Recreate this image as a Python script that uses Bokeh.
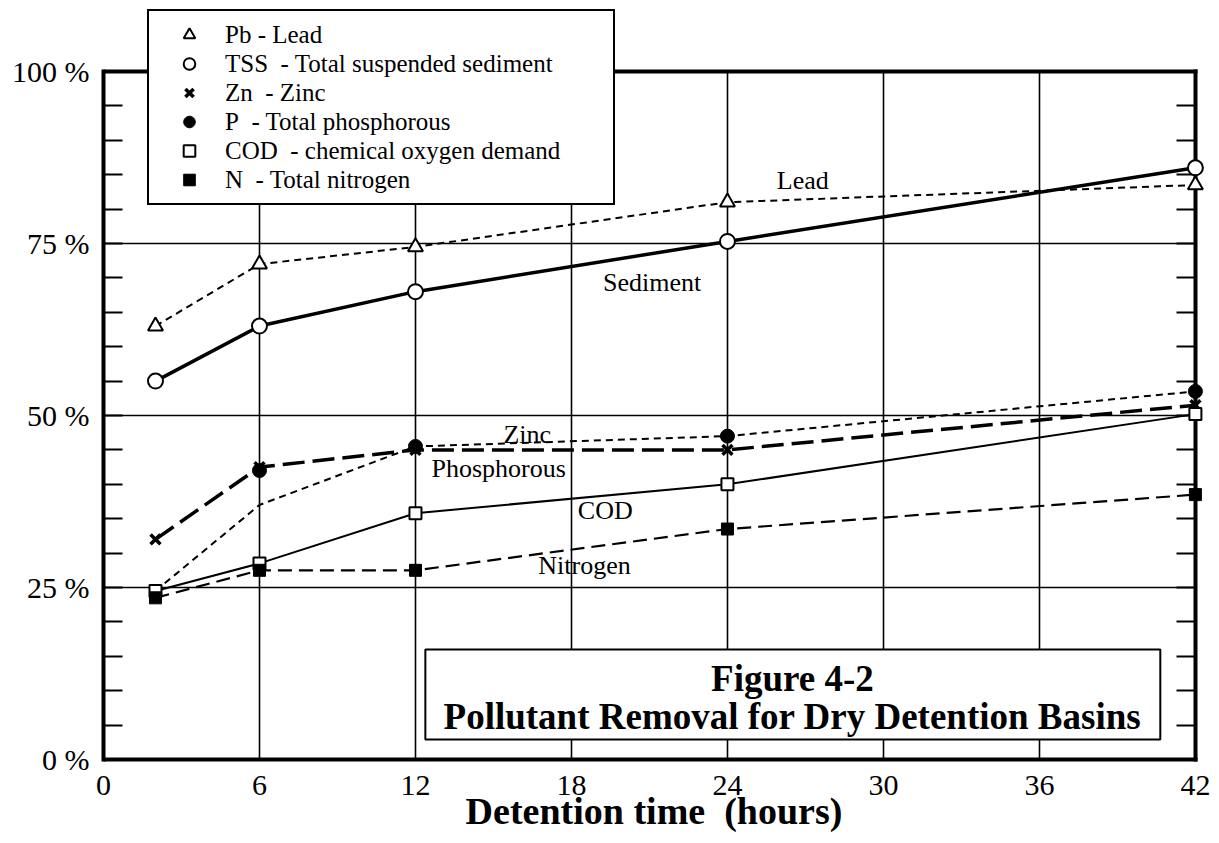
from bokeh.plotting import figure
from bokeh.models import (Legend, LegendItem, SingleIntervalTicker, FixedTicker,
                          Range1d, BoxAnnotation, Label, Grid, AllLabels)
from bokeh.embed import file_html
from bokeh.resources import INLINE

# ---------------- data ----------------
hours = [2, 6, 12, 24, 42]
lead = [63, 72, 74.5, 81, 83.5]
tss = [55, 63, 68, 75.3, 86]
zinc = [32, 42.5, 45, 45, 51.5]
phos_line = [24.5, 37, 45.5, 47, 53.5]
phos_hours = [6, 12, 24, 42]
phos_points = [42, 45.5, 47, 53.5]
cod = [24.5, 28.5, 35.8, 40, 50.2]
nitrogen = [23.5, 27.5, 27.5, 33.5, 38.5]

x_ticks = [0, 6, 12, 18, 24, 30, 36, 42]
y_ticks = [0, 25, 50, 75, 100]
y_tick_labels = ["0 %", "25 %", "50 %", "75 %", "100 %"]

legend_labels = [
    "Pb - Lead",
    "TSS\u00a0 - Total suspended sediment",
    "Zn\u00a0 - Zinc",
    "P\u00a0 - Total phosphorous",
    "COD\u00a0 - chemical oxygen demand",
    "N\u00a0 - Total nitrogen",
]
series_names = ["Lead", "Sediment", "Zinc", "Phosphorous", "COD", "Nitrogen"]

# ---------------- layout / style ----------------
SERIF = "Liberation Serif"
X_MAX, Y_MAX = x_ticks[-1], y_ticks[-1]
PX_PER_X = 26.0      # pixels per hour
PX_PER_Y = 6.88      # pixels per percent
FRAME_TOP_PX = 71    # where 100 % sits from the top of the canvas
BOTTOM_PAD_PX = 3    # frame extends a little below 0 % so the bottom line is not clipped
name_pos = [(26.9, 84.2), (21.1, 69.3), (16.3, 47.3), (15.2, 42.3), (19.3, 36.2), (18.5, 28.2)]

x_end = X_MAX + 0.35
y_start = -BOTTOM_PAD_PX / PX_PER_Y
y_end = Y_MAX + FRAME_TOP_PX / PX_PER_Y

p = figure(width=1219, height=843, output_backend="svg", toolbar_location=None,
           title=None, x_range=Range1d(0, x_end), y_range=Range1d(y_start, y_end),
           min_border_left=103, min_border_right=15, min_border_top=0,
           min_border_bottom=81)
p.background_fill_color = "white"
p.border_fill_color = "white"
p.outline_line_color = None

# x axis (labels only; the bottom frame line is drawn as a grid line at 0 %)
xa = p.xaxis[0]
xa.ticker = x_ticks
xa.major_label_policy = AllLabels()
xa.axis_line_color = None
xa.major_tick_in = 0
xa.major_tick_out = 0
xa.minor_tick_in = 0
xa.minor_tick_out = 0
xa.major_label_standoff = 13
xa.major_label_text_font = SERIF
xa.major_label_text_font_size = "30px"
xa.major_label_text_color = "black"
xa.axis_label = "Detention time\u00a0 (hours)"
xa.axis_label_text_font = SERIF
xa.axis_label_text_font_style = "bold"
xa.axis_label_text_font_size = "38px"
xa.axis_label_text_color = "black"
xa.axis_label_standoff = -8

# y axis (left frame line + inward minor ticks)
ya = p.yaxis[0]
ya.ticker = SingleIntervalTicker(interval=25, num_minor_ticks=5)
ya.bounds = (0, Y_MAX)
ya.major_label_overrides = dict(zip(y_ticks, y_tick_labels))
ya.axis_line_color = "black"
ya.axis_line_width = 4
ya.axis_line_cap = "square"
ya.major_tick_in = 0
ya.major_tick_out = 0
ya.minor_tick_in = 19
ya.minor_tick_out = 0
ya.minor_tick_line_width = 2
ya.minor_tick_line_color = "black"
ya.major_label_standoff = 14
ya.major_label_text_font = SERIF
ya.major_label_text_font_size = "30px"
ya.major_label_text_color = "black"

# inner grid lines, limited to the 0..42 / 0..100 box
p.xgrid.ticker = x_ticks[1:-1]
p.ygrid.ticker = y_ticks[1:-1]
p.xgrid.cross_bounds = (0, Y_MAX)
p.ygrid.cross_bounds = (0, X_MAX)
for g in (p.xgrid[0], p.ygrid[0]):
    g.grid_line_color = "black"
    g.grid_line_width = 1.6
    g.grid_line_alpha = 1

# right, top and bottom frame lines
p.add_layout(Grid(dimension=0, ticker=FixedTicker(ticks=[X_MAX]), cross_bounds=(0, Y_MAX),
                  grid_line_color="black", grid_line_width=4, grid_line_cap="square"))
p.add_layout(Grid(dimension=1, ticker=FixedTicker(ticks=[y_ticks[0], Y_MAX]),
                  cross_bounds=(0, X_MAX), grid_line_color="black", grid_line_width=4,
                  grid_line_cap="square"))
# inward minor ticks on the right frame line
p.add_layout(Grid(dimension=1, ticker=SingleIntervalTicker(interval=25, num_minor_ticks=5),
                  cross_bounds=(X_MAX - 19 / PX_PER_X, X_MAX), grid_line_color=None,
                  minor_grid_line_color="black", minor_grid_line_width=2))

# ---------------- lines ----------------
p.line(hours, lead, line_color="black", line_width=2, line_dash="7 5")
p.line(hours, tss, line_color="black", line_width=3.5)
p.line(hours, zinc, line_color="black", line_width=3.5, line_dash="22 8")
p.line(hours, phos_line, line_color="black", line_width=2, line_dash="7 5")
p.line(hours, cod, line_color="black", line_width=2)
p.line(hours, nitrogen, line_color="black", line_width=2.2, line_dash="14 7")

# ---------------- markers ----------------
r_pb = p.scatter(hours, lead, marker="triangle", size=15, fill_color="white",
                 line_color="black", line_width=2)
r_tss = p.scatter(hours, tss, marker="circle", size=15, fill_color="white",
                  line_color="black", line_width=2)
r_zn = p.scatter(hours, zinc, marker="x", size=14, line_color="black", line_width=3.5)
r_p = p.scatter(phos_hours, phos_points, marker="circle", size=14, fill_color="black",
                line_color="black", line_width=1)
r_cod = p.scatter(hours, cod, marker="square", size=12, fill_color="white",
                  line_color="black", line_width=2)
r_n = p.scatter(hours, nitrogen, marker="square", size=12, fill_color="black",
                line_color="black", line_width=1)

# ---------------- series name labels ----------------
for name, (lx, ly) in zip(series_names, name_pos):
    p.add_layout(Label(x=lx, y=ly, text=name, text_font=SERIF, text_font_size="26px",
                       text_color="black", text_align="center", text_baseline="middle"))

# ---------------- title box ----------------
p.add_layout(BoxAnnotation(left=12.38, right=40.65, bottom=2.9, top=16.0,
                           fill_color="white", fill_alpha=1, line_color="black",
                           line_width=2, line_alpha=1))
p.add_layout(Label(x=26.5, y=11.8, text="Figure 4-2", text_font=SERIF,
                   text_font_style="bold", text_font_size="37px", text_color="black",
                   text_align="center", text_baseline="alphabetic"))
p.add_layout(Label(x=26.5, y=6.2, text="Pollutant Removal for Dry Detention Basins",
                   text_font=SERIF, text_font_style="bold", text_font_size="37px",
                   text_color="black", text_align="center", text_baseline="alphabetic"))

# ---------------- legend ----------------
legend = Legend(
    items=[LegendItem(label=lab, renderers=[r]) for lab, r in
           zip(legend_labels, [r_pb, r_tss, r_zn, r_p, r_cod, r_n])],
    location=(44, 554 + BOTTOM_PAD_PX), margin=0, padding=9, spacing=0,
    glyph_width=62, glyph_height=29, label_height=28, label_standoff=5,
    label_width=379,
    label_text_font=SERIF, label_text_font_size="25px", label_text_color="black",
    border_line_color="black", border_line_width=2, border_line_alpha=1,
    background_fill_color="white", background_fill_alpha=1)
p.add_layout(legend)

open("out.html", "w").write(file_html(p, INLINE))
